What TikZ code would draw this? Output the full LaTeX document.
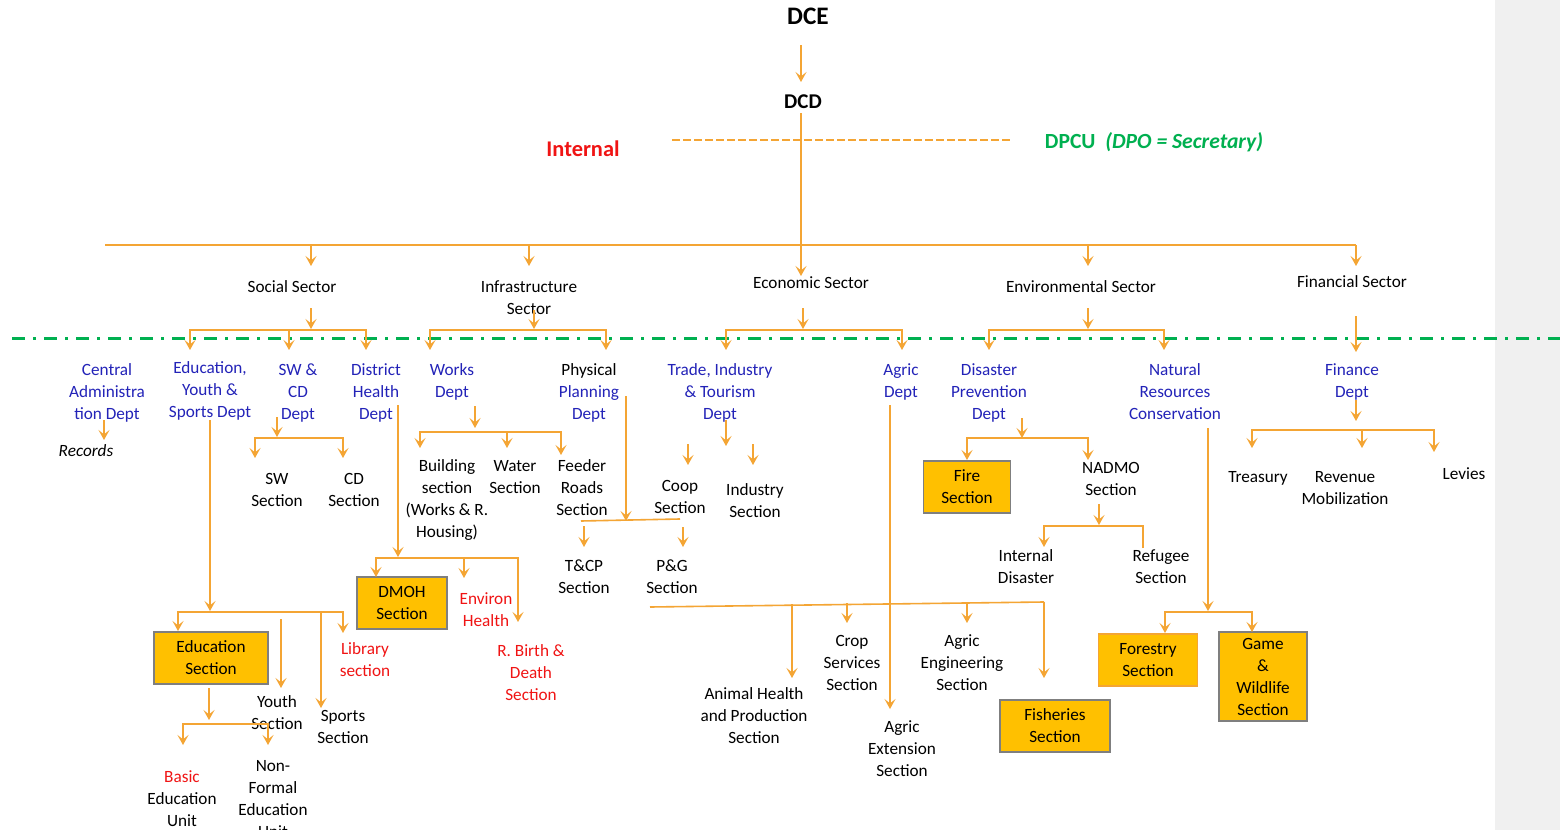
\documentclass[tikz,border=0pt]{standalone}
\usepackage{fontspec}
\setmainfont{Carlito}
\usetikzlibrary{arrows.meta}
\definecolor{orgline}{HTML}{F4A534}
\definecolor{deptblue}{HTML}{2323B8}
\definecolor{secred}{HTML}{F01414}
\definecolor{dpcugreen}{HTML}{00B050}
\definecolor{boxfill}{HTML}{FFC000}
\definecolor{boxrim}{HTML}{7F7F7F}
\definecolor{sideband}{HTML}{F0F0F0}
\newcommand\lns[1]{\begin{tabular}[t]{@{}c@{}}#1\end{tabular}}
\begin{document}
\begin{tikzpicture}[x=0.5pt,y=-0.5pt,
    >={Stealth[length=5pt,width=5.5pt,inset=2.2pt]},
    link/.style={draw=orgline,line width=0.8pt},
    arr/.style={link,->},
    txt/.style={font=\fontsize{8.6}{11}\selectfont,inner sep=0pt,anchor=base},
    dept/.style={txt,text=deptblue},
    redtxt/.style={txt,text=secred},
    secbox/.style={txt,align=center,anchor=center,draw=boxrim,line width=0.8pt,fill=boxfill}]
    \fill[white] (0,0) rectangle (1560,830);
    \fill[sideband] (1495,0) rectangle (1560,830);
    \useasboundingbox (0,0) rectangle (1560,830);
    % top
    \node[txt,font=\fontsize{12.6}{15}\selectfont\bfseries] (dce) at (808,25) {DCE};
    \node[txt,font=\fontsize{10.5}{13}\selectfont\bfseries] (dcd) at (803,108) {DCD};
    \node[txt,font=\fontsize{11.2}{14}\selectfont\bfseries,text=secred] (internal) at (583,156) {Internal};
    \node[txt,font=\fontsize{10.8}{14}\selectfont\bfseries,text=dpcugreen] (dpcu) at (1154,148) {DPCU\ \ \textit{(DPO = Secretary)}};
    \draw[arr] (801,45) -- (801,82);
    \draw[arr] (801,113) -- (801,276);
    \draw[link,line width=1pt,dash pattern=on 4pt off 1.5pt] (672,140) -- (1012,140);
    \draw[link] (105,245) -- (1356,245);
    \foreach \x in {311,529,1088,1356}{
        \draw[arr] (\x,245) -- (\x,266);
    }
    % sectors
    \node[txt] (social) at (292,292) {Social Sector};
    \node[txt] (infra) at (529,292) {\lns{Infrastructure\\Sector}};
    \node[txt] (econ) at (811,288) {Economic Sector};
    \node[txt] (envi) at (1081,292) {Environmental Sector};
    \node[txt] (fin) at (1352,287) {Financial Sector};
    \draw[dpcugreen,line width=1.5pt,dash pattern=on 6.5pt off 4pt on 1.5pt off 4pt] (12,338) -- (1560,338);
    \foreach \x/\y in {311/308,534/310,803/308,1088/308}{
        \draw[arr] (\x,\y) -- (\x,329);
    }
    \foreach \l/\r in {190/366,430/606,726/902,989/1164}{
        \draw[link,<->] (\l,350) -- (\l,330) -- (\r,330) -- (\r,350);
    }
    \draw[arr] (289,330) -- (289,350);
    \draw[arr] (1356,316) -- (1356,352);
    % departments
    \node[dept] (cadm) at (107,375) {\lns{Central\\Administra\\tion Dept}};
    \node[dept] (edu) at (210,373) {\lns{Education,\\Youth \&\\Sports Dept}};
    \node[dept] (swcd) at (298,375) {\lns{SW \&\\CD\\Dept}};
    \node[dept] (dhealth) at (376,375) {\lns{District\\Health\\Dept}};
    \node[dept] (works) at (452,375) {\lns{Works\\Dept}};
    \node[dept] (phys) at (589,375) {\lns{\textcolor{black}{Physical}\\Planning\\Dept}};
    \node[dept] (trade) at (720,375) {\lns{Trade, Industry\\\& Tourism\\Dept}};
    \node[dept] (agric) at (901,375) {\lns{Agric\\Dept}};
    \node[dept] (disas) at (989,375) {\lns{Disaster\\Prevention\\Dept}};
    \node[dept] (natres) at (1175,375) {\lns{Natural\\Resources\\Conservation}};
    \node[dept] (finance) at (1352,375) {\lns{Finance\\Dept}};
    % social sector units
    \node[txt,font=\fontsize{8.6}{11}\selectfont\itshape] (records) at (86,456) {Records};
    \draw[arr] (104,420) -- (104,440);
    \node[txt] (swsec) at (277,484) {\lns{SW\\Section}};
    \node[txt] (cdsec) at (354,484) {\lns{CD\\Section}};
    \draw[arr] (277,417) -- (277,437);
    \draw[link,<->] (255,458) -- (255,438) -- (343,438) -- (343,458);
    \node[secbox,minimum width=57pt,minimum height=26pt] (edusec) at (211,658) {Education\\Section};
    \node[txt] (basic) at (182,782) {\lns{\textcolor{secred}{Basic}\\Education\\Unit}};
    \node[txt] (nonformal) at (273,771) {\lns{Non-\\Formal\\Education\\Unit}};
    \node[txt] (youth) at (277,707) {\lns{Youth\\Section}};
    \node[txt] (sports) at (343,721) {\lns{Sports\\Section}};
    \node[redtxt] (library) at (365,654) {\lns{Library\\section}};
    \draw[arr] (210,420) -- (210,611);
    \draw[link,<->] (178,631) -- (178,612) -- (343,612) -- (343,633);
    \draw[arr] (281,619) -- (281,688);
    \draw[arr] (321,612) -- (321,708);
    \draw[arr] (209,688) -- (209,720);
    \draw[link,<->] (183,745) -- (183,724) -- (268,724) -- (268,745);
    \node[secbox,minimum width=45pt,minimum height=26pt] (dmoh) at (402,603) {DMOH\\Section};
    \node[redtxt] (environ) at (486,604) {\lns{Environ\\Health}};
    \node[redtxt] (rbirth) at (531,656) {\lns{R. Birth \&\\Death\\Section}};
    \draw[arr] (398,405) -- (398,557);
    \draw[link,<->] (376,577) -- (376,558) -- (518,558) -- (518,622);
    \draw[arr] (464,558) -- (464,578);
    % infrastructure units
    \node[txt] (building) at (447,471) {\lns{Building\\section\\(Works \& R.\\Housing)}};
    \node[txt] (water) at (515,471) {\lns{Water\\Section}};
    \node[txt] (feeder) at (582,471) {\lns{Feeder\\Roads\\Section}};
    \draw[arr] (475,406) -- (475,428);
    \draw[link,<->] (420,448) -- (420,432) -- (561,432) -- (561,455);
    \draw[arr] (507,432) -- (507,448);
    \node[txt] (tcp) at (584,571) {\lns{T\&CP\\Section}};
    \node[txt] (pg) at (672,571) {\lns{P\&G\\Section}};
    \draw[arr] (626,396) -- (626,521);
    \draw[link] (581,521) -- (680,519);
    \draw[arr] (584,526) -- (584,547);
    \draw[arr] (683,527) -- (683,547);
    % economic units
    \node[txt] (coop) at (680,491) {\lns{Coop\\Section}};
    \node[txt] (industry) at (755,495) {\lns{Industry\\Section}};
    \draw[arr] (726,420) -- (726,446);
    \draw[arr] (688,444) -- (688,465);
    \draw[arr] (753,444) -- (753,465);
    \node[txt] (animal) at (754,699) {\lns{Animal Health\\and Production\\Section}};
    \node[txt] (crop) at (852,646) {\lns{Crop\\Services\\Section}};
    \node[txt] (agreng) at (962,646) {\lns{Agric\\Engineering\\Section}};
    \node[txt] (agrext) at (902,732) {\lns{Agric\\Extension\\Section}};
    \node[secbox,minimum width=55pt,minimum height=26pt] (fisheries) at (1055,726) {Fisheries\\Section};
    \draw[arr] (890,405) -- (890,709);
    \draw[link] (650,607) -- (1044,602);
    \draw[arr] (792,604) -- (792,678);
    \draw[arr] (847,603) -- (847,623);
    \draw[arr] (967,602) -- (967,623);
    \draw[arr] (1044,602) -- (1044,678);
    % environmental units
    \node[secbox,minimum width=43.5pt,minimum height=26pt] (fire) at (967,487) {Fire\\Section};
    \node[txt] (nadmo) at (1111,473) {\lns{NADMO\\Section}};
    \draw[arr] (1022,418) -- (1022,438);
    \draw[link,<->] (967,460) -- (967,438) -- (1088,438) -- (1088,460);
    \node[txt] (intdis) at (1026,561) {\lns{Internal\\Disaster}};
    \node[txt] (refugee) at (1161,561) {\lns{Refugee\\Section}};
    \draw[arr] (1099,504) -- (1099,525);
    \draw[link,->] (1143,548) -- (1143,526) -- (1044,526) -- (1044,547);
    \node[secbox,draw=orgline,minimum width=49.5pt,minimum height=26pt] (forestry) at (1148,660) {Forestry\\Section};
    \node[secbox,minimum width=44pt,minimum height=44.5pt] (game) at (1263,676.5) {Game\\\&\\Wildlife\\Section};
    \draw[arr] (1208,428) -- (1208,611);
    \draw[link,<->] (1165,633) -- (1165,612) -- (1252,612) -- (1252,632);
    % financial units
    \node[txt] (treasury) at (1258,482) {Treasury};
    \node[txt] (revenue) at (1345,482) {\lns{Revenue\\Mobilization}};
    \node[txt] (levies) at (1464,479) {Levies};
    \draw[arr] (1356,400) -- (1356,421);
    \draw[link,<->] (1252,448) -- (1252,430) -- (1434,430) -- (1434,452);
    \draw[arr] (1362,430) -- (1362,448);
\end{tikzpicture}
\end{document}
